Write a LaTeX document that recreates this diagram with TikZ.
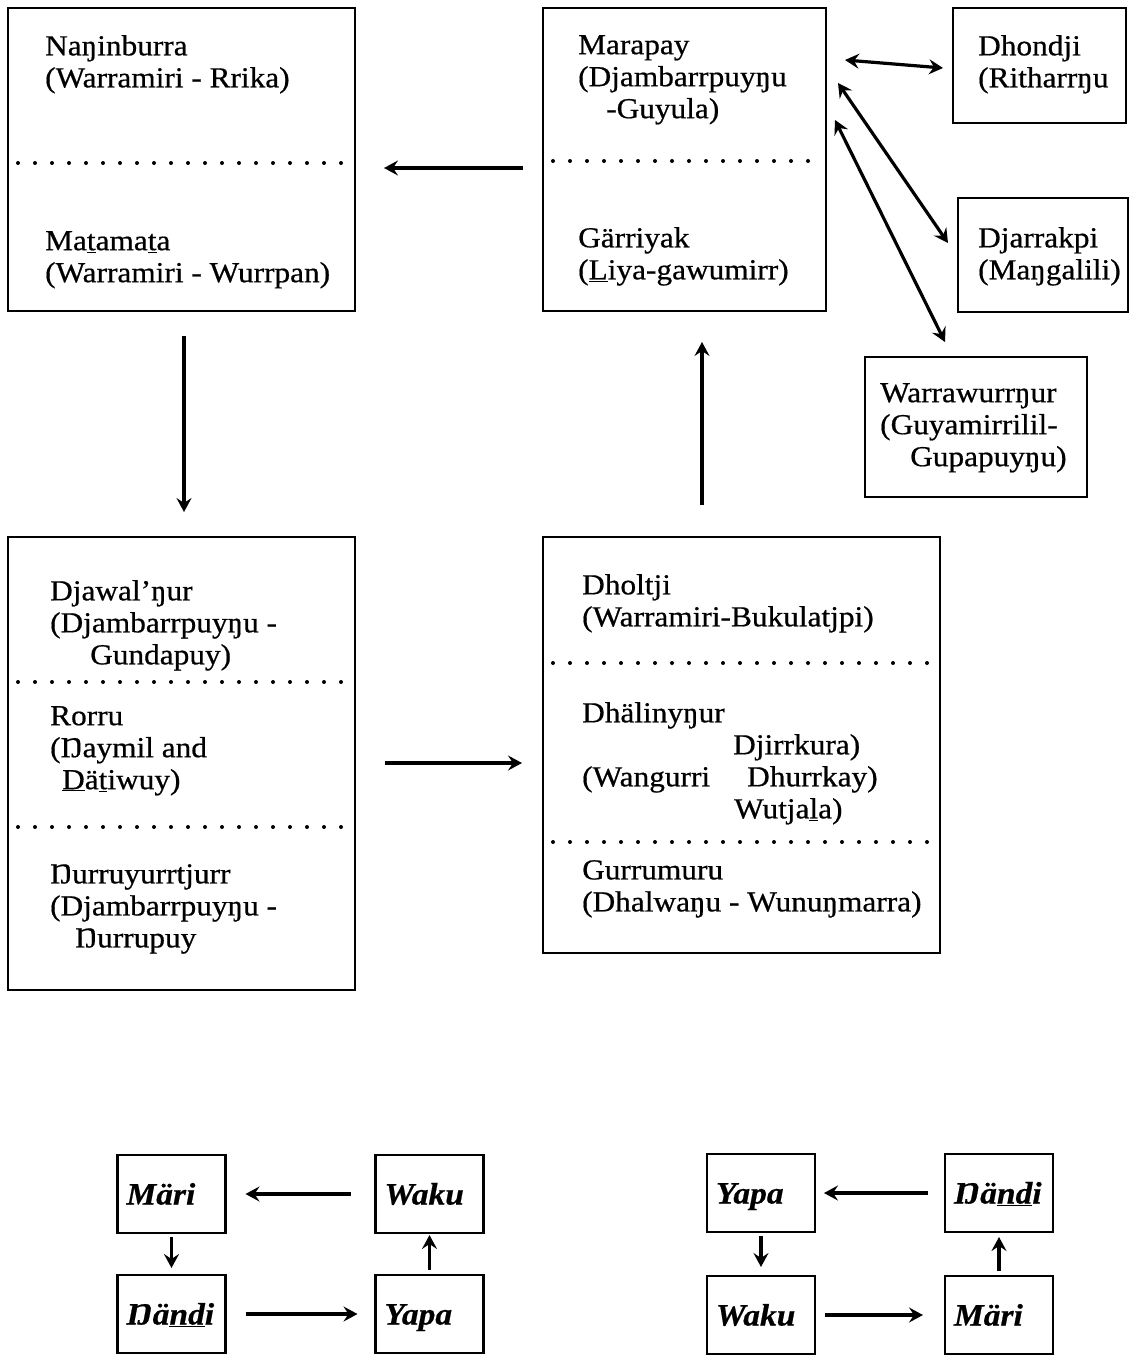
\documentclass[tikz,border=0pt]{standalone}
\usepackage{fontspec}
\setmainfont{Liberation Serif}[FakeStretch=1.08, FakeBold=0.6]
\usetikzlibrary{positioning, arrows.meta}

\begin{document}
\begin{tikzpicture}[x=1pt, y=-1pt, on grid, >={Stealth[length=14pt, width=15pt, inset=5pt]}]
      \tikzset{
        clan/.style={draw, line width=2.6pt, inner sep=0pt, outer sep=0pt},
        names/.style={align=left, anchor=north west, inner sep=0pt, font=\fontsize{29}{32}\selectfont},
        divider/.style={line width=4pt, line cap=round, dash pattern=on 0pt off 17pt, shorten <=10pt, shorten >=10pt},
        kin/.style={draw, line width=2.6pt, outer sep=0pt, minimum height=78pt, text width=90pt, inner xsep=9pt, text height=23pt, text depth=2pt, align=left, font=\fontsize{31}{32}\selectfont\bfseries\itshape},
        link/.style={line width=3.2pt}
      }
      \useasboundingbox (0,0) rectangle (1131,1355);

      % Clan boxes
      \node[clan, minimum width=347pt, minimum height=303pt] (nanin) at (181.5,159.5) {};
      \node[clan, minimum width=283pt, minimum height=303pt] (mara)  at (684.5,159.5) {};
      \node[clan, minimum width=173pt, minimum height=115pt] (dhon)  at (1039.5,65.5) {};
      \node[clan, minimum width=170pt, minimum height=114pt] (djarr) at (1043,255) {};
      \node[clan, minimum width=222pt, minimum height=140pt] (warra) at (976,427) {};
      \node[clan, minimum width=347pt, minimum height=453pt] (djawal) at (181.5,763.5) {};
      \node[clan, minimum width=397pt, minimum height=416pt] (dholt) at (741.5,745) {};

      % Dotted dividers
      \draw[divider] ([yshift=-3.5pt]nanin.west) -- ([yshift=-3.5pt]nanin.east);
      \draw[divider] ([yshift=-1.5pt]mara.west) -- ([yshift=-1.5pt]mara.east);
      \draw[divider] ([yshift=81.5pt]djawal.west) -- ([yshift=81.5pt]djawal.east);
      \draw[divider] ([yshift=-63.5pt]djawal.west) -- ([yshift=-63.5pt]djawal.east);
      \draw[divider] ([yshift=82pt]dholt.west) -- ([yshift=82pt]dholt.east);
      \draw[divider] ([yshift=-97pt]dholt.west) -- ([yshift=-97pt]dholt.east);

      % Names
      \node[names] (naninburra) at (45,35) {Naŋinburra\\(Warramiri - Rrika)};
      \node[names] (matamata)   at (45,231) {Ma\underline{t}ama\underline{t}a\\(Warramiri - Wurrpan)};
      \node[names] (marapay)    at (578,35) {Marapay\\(Djambarrpuyŋu\\\hspace*{28pt}-Guyula)};
      \node[names] (garriyak)   at (578,227) {Gärriyak\\(\underline{L}iya-gawumirr)};
      \node[names] (dhondji)    at (978,35) {Dhondji\\(Ritharrŋu};
      \node[names] (djarrakpi)  at (978,227) {Djarrakpi\\(Maŋgalili)};
      \node[names] (warrawurr)  at (880,383) {Warrawurrŋur\\(Guyamirrilil-\\\hspace*{30pt}Gupapuyŋu)};
      \node[names] (djawalnur)  at (50,580) {Djawal'ŋur\\(Djambarrpuyŋu -\\\hspace*{40pt}Gundapuy)};
      \node[names] (rorru)      at (50,706) {Rorru\\(Ŋaymil and\\\hspace*{12pt}\underline{D}ä\underline{t}iwuy)};
      \node[names] (nurru)      at (50,864) {Ŋurruyurrtjurr\\(Djambarrpuyŋu -\\\hspace*{25pt}Ŋurrupuy};
      \node[names] (dholtji)    at (582,574) {Dholtji\\(Warramiri-Bukulatjpi)};
      \node[names] (dhalin)     at (582,702) {Dhälinyŋur\\\hspace*{151pt}Djirrkura)\\\makebox[165pt][l]{(Wangurri}Dhurrkay)\\\hspace*{152pt}Wutja\underline{l}a)};
      \node[names] (gurru)      at (582,860) {Gurrumuru\\(Dhalwaŋu - Wunuŋmarra)};

      % Cycle between clans
      \path[->, link]
        ([yshift=-8.5pt]mara.west) edge[shorten <=20pt, shorten >=29pt] ([yshift=-8.5pt]nanin.east)
        ([xshift=2.5pt]nanin.south) edge[shorten <=25pt, shorten >=25pt] ([xshift=2.5pt]djawal.north)
        ([yshift=0.5pt]djawal.east) edge[shorten <=30pt, shorten >=21pt] ([yshift=-18pt]dholt.west)
        ([xshift=-39.5pt]dholt.north) edge[shorten <=32pt, shorten >=31pt] ([xshift=17.5pt]mara.south);
      \path[<->, link]
        ([shift={(19pt,-52pt)}]mara.north east) edge ([shift={(-10pt,-60pt)}]dhon.north west)
        ([shift={(12pt,-75pt)}]mara.north east) edge ([shift={(-10pt,-45pt)}]djarr.north west)
        ([shift={(9pt,-112pt)}]mara.north east) edge ([shift={(80pt,15pt)}]warra.north west);

      % Small cycles
      \node[kin] (lmari) at (171.5,1194) {Märi};
      \node[kin] (lwaku)  [right=258pt of lmari] {Waku};
      \node[kin] (lnandi) [below=120pt of lmari] {Ŋä\underline{nd}i};
      \node[kin] (lyapa)  [right=258pt of lnandi] {Yapa};

      \node[kin] (ryapa) at (761,1193) {Yapa};
      \node[kin] (rnandi) [right=238pt of ryapa] {Ŋä\underline{nd}i};
      \node[kin] (rwaku)  [below=122pt of ryapa] {Waku};
      \node[kin] (rmari)  [right=238pt of rwaku] {Märi};

      \path[->, link]
        (lwaku) edge[shorten <=25pt, shorten >=20pt] (lmari)
        (lmari) edge[shorten <=4pt, shorten >=7pt] (lnandi)
        (lnandi) edge[shorten <=20pt, shorten >=18pt] (lyapa)
        (lyapa) edge[shorten <=5pt, shorten >=2pt] (lwaku)
        (rnandi) edge[shorten <=17pt, shorten >=9pt] (ryapa)
        (ryapa) edge[shorten <=4pt, shorten >=9pt] (rwaku)
        (rwaku) edge[shorten <=10pt, shorten >=22pt] (rmari)
        (rmari) edge[shorten <=5pt, shorten >=5pt] (rnandi);
    \end{tikzpicture}
\end{document}
